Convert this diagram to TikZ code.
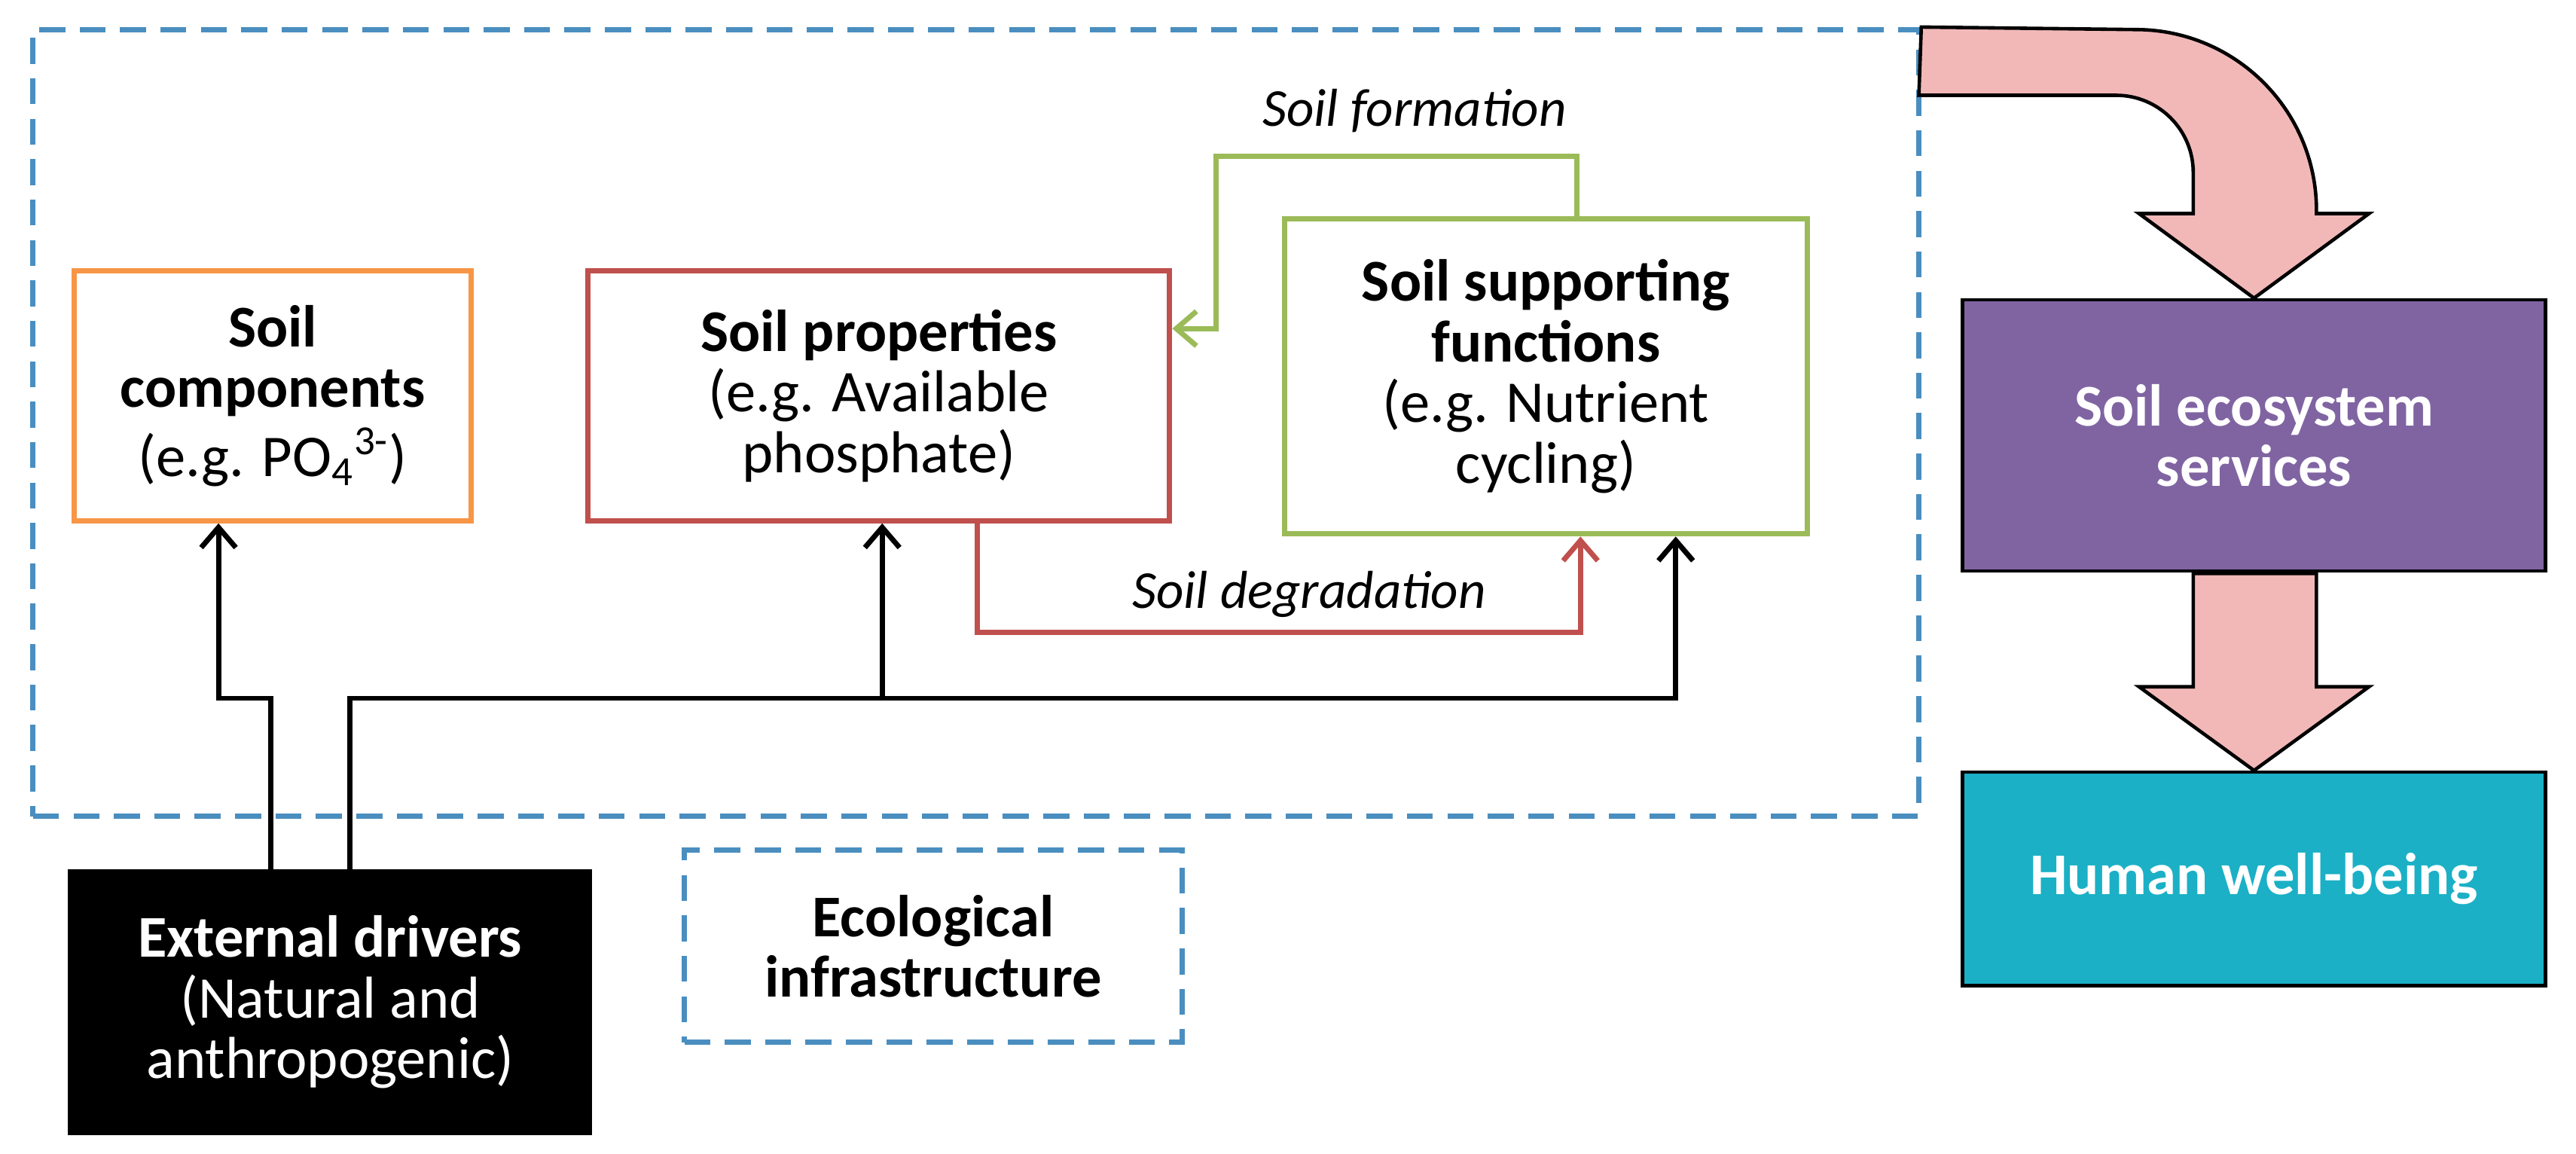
\documentclass[tikz,border=0pt]{standalone}
\usepackage{fontspec}
\setmainfont{Carlito}
\usetikzlibrary{arrows.meta}
\definecolor{cor}{HTML}{F79646}
\definecolor{cred}{HTML}{C0504D}
\definecolor{cgreen}{HTML}{9BBB59}
\definecolor{cpur}{HTML}{8064A2}
\definecolor{cteal}{HTML}{1BB0C6}
\definecolor{cblue}{HTML}{4A8EC0}
\definecolor{cpink}{HTML}{F2B8B8}
\begin{document}
\begin{tikzpicture}[x=0.02cm,y=-0.02cm,
  every node/.style={font=\fontsize{20.5}{21}\selectfont, align=center},
  box/.style={draw, line width=1.8pt, inner sep=2pt},
  fbox/.style={box, draw=black, line width=1.2pt, text=white},
  conn/.style={line width=1.8pt, -{Straight Barb[length=7pt,width=12pt]}},
  lab/.style={font=\fontsize{18.5}{22}\selectfont\itshape},
  dsh/.style={draw=cblue, line width=1.8pt, dash pattern=on 9pt off 5pt},
  pink/.style={fill=cpink, draw=black, line width=1.2pt}]
\useasboundingbox (0,0) rectangle (1568,702);
\node[dsh, minimum width=22.96cm, minimum height=9.58cm] (frame) at (594,257.5) {};
\node[box, draw=cor, minimum width=4.84cm, minimum height=3.04cm] (comp) at (166,241) {\textbf{Soil}\\\textbf{components}\\[3pt](e.g. PO\textsubscript{4}\textsuperscript{3-})};
\node[box, draw=cred, minimum width=7.08cm, minimum height=3.04cm] (prop) at (535,241) {\textbf{Soil properties}\\(e.g. Available\\phosphate)};
\node[box, draw=cgreen, minimum width=6.36cm, minimum height=3.84cm] (supp) at (941,229) {\textbf{Soil supporting}\\\textbf{functions}\\(e.g. Nutrient\\cycling)};
\node[fbox, fill=cpur, minimum width=7.1cm, minimum height=3.3cm] (serv) at (1372,265) {\textbf{Soil ecosystem}\\\textbf{services}};
\node[fbox, fill=cteal, minimum width=7.1cm, minimum height=2.6cm] (hum) at (1372,535) {\textbf{Human well-being}};
\node[fbox, fill=black, minimum width=6.34cm, minimum height=3.2cm] (ext) at (201,610) {\textbf{External drivers}\\(Natural and\\anthropogenic)};
\node[dsh, minimum width=6.06cm, minimum height=2.34cm] (eco) at (568,576) {\textbf{Ecological}\\\textbf{infrastructure}};
% coordinates
\coordinate (a1) at (165,425);
\coordinate (a2) at (133,425);
\coordinate (b1) at (213,425);
\coordinate (b2) at (537,425);
\coordinate (b3) at (1020,425);
\coordinate (r1) at (595,385);
\coordinate (r2) at (962,385);
\coordinate (g1) at (960,95);
\coordinate (g2) at (740,95);
\coordinate (g3) at (740,200);
% black connectors
\draw[conn] (ext.north -| a1) -- (a1) -- (a2) -- (comp.south -| a2);
\draw[conn] (ext.north -| b1) -- (b1) -- (b3) -- (supp.south -| b3);
\draw[conn] (b2) -- (prop.south -| b2);
% red
\draw[conn, draw=cred] (prop.south -| r1) -- (r1) -- (r2) node[lab, pos=0.55, above=1pt, text=black] {Soil degradation} -- (supp.south -| r2);
% green
\draw[conn, draw=cgreen] (supp.north -| g1) -- (g1) -- (g2) node[lab, pos=0.45, above=4pt, text=black] {Soil formation} -- (g3) -- (prop.east |- g3);
% pink arrows
\draw[pink] (frame.north east) -- (1300,18) arc[start angle=-90, end angle=0, radius=110] -- (1410,130) -- (1442,130) -- (serv.north) -- (1302,130) -- (1335,130) -- (1335,105) arc[start angle=0, end angle=-90, radius=47] -- (1168,58) -- cycle;
\draw[pink] (1335,349) -- (1410,349) -- (1410,418) -- (1442,418) -- (hum.north) -- (1302,418) -- (1335,418) -- cycle;
\end{tikzpicture}
\end{document}
